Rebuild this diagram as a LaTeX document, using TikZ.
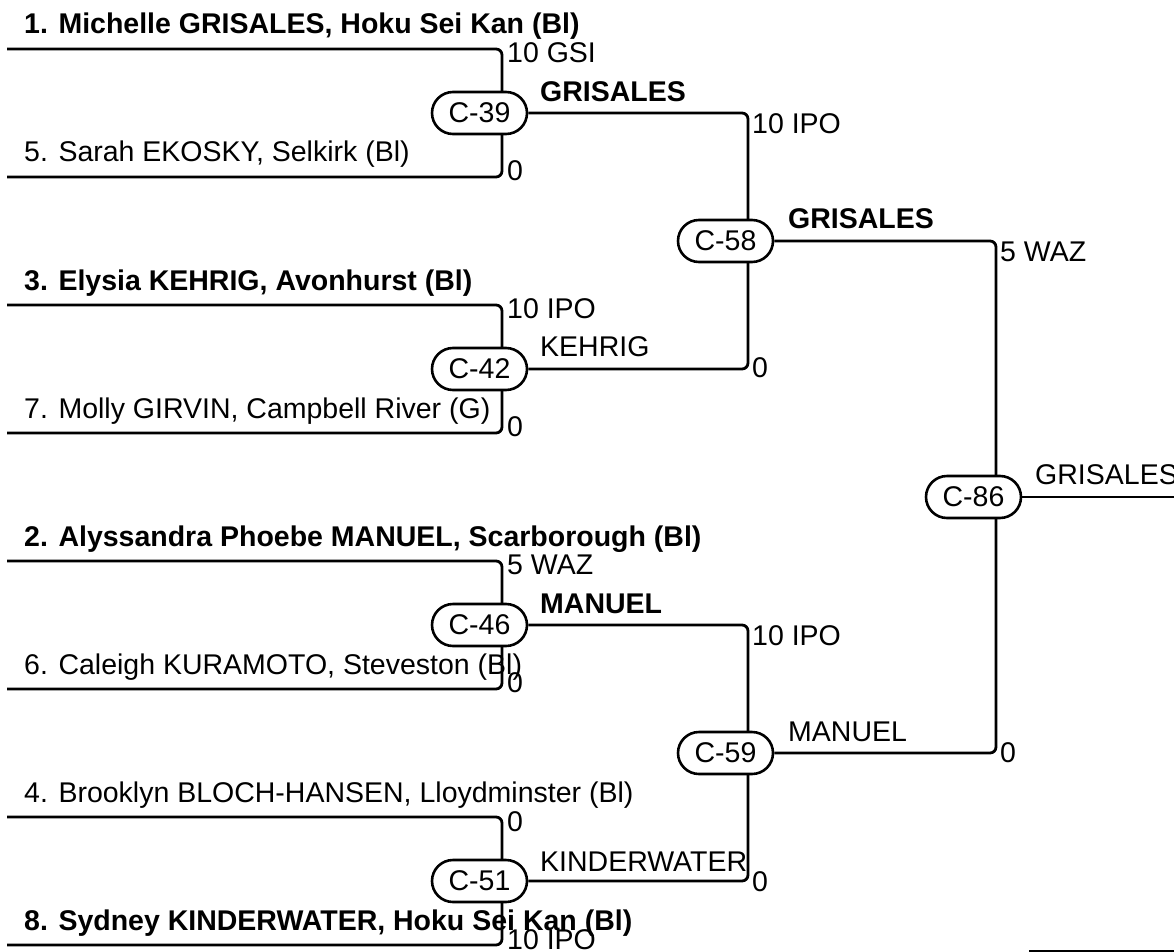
\documentclass[tikz,border=0pt]{standalone}
\usepackage{fontspec}
\setmainfont{Liberation Sans}
\pgfdeclarelayer{bg}
\pgfsetlayers{bg,main}
\newcommand\fsz{\fontsize{28.5}{30}\selectfont}
\tikzset{
  br/.style={line width=2.8pt, rounded corners=6pt},
  matchbox/.style={draw, line width=2.6pt, fill=white, rounded corners=21pt,
    minimum width=95pt, minimum height=42pt, inner sep=0pt, font=\fsz},
  entrant/.style={anchor=base west, inner sep=0pt, font=\fsz},
  scorelbl/.style={anchor=west, inner sep=0pt, font=\fsz},
  winlbl/.style={anchor=west, inner sep=0pt, font=\fsz},
}
\begin{document}
\begin{tikzpicture}[x=1pt,y=-1pt]
\useasboundingbox (0,0) rectangle (1174,952);
% entrant names
\node[entrant, font=\fsz\bfseries] (n1) at (24,34) {1. Michelle GRISALES, Hoku Sei Kan (Bl)};
\node[entrant] (n5) at (24,162) {5. Sarah EKOSKY, Selkirk (Bl)};
\node[entrant, font=\fsz\bfseries] (n3) at (24,290) {3. Elysia KEHRIG, Avonhurst (Bl)};
\node[entrant] (n7) at (24,418) {7. Molly GIRVIN, Campbell River (G)};
\node[entrant, font=\fsz\bfseries] (n2) at (24,546) {2. Alyssandra Phoebe MANUEL, Scarborough (Bl)};
\node[entrant] (n6) at (24,674) {6. Caleigh KURAMOTO, Steveston (Bl)};
\node[entrant] (n4) at (24,802) {4. Brooklyn BLOCH-HANSEN, Lloydminster (Bl)};
\node[entrant, font=\fsz\bfseries] (n8) at (24,930) {8. Sydney KINDERWATER, Hoku Sei Kan (Bl)};
% line starts
\coordinate (s1) at (7,49);
\coordinate (s5) at (7,177);
\coordinate (s3) at (7,305);
\coordinate (s7) at (7,433);
\coordinate (s2) at (7,561);
\coordinate (s6) at (7,689);
\coordinate (s4) at (7,817);
\coordinate (s8) at (7,945);
\coordinate (fin) at (1174,497);
\coordinate (xa) at (1029,951);
\coordinate (xb) at (1174,951);
% match nodes
\node[matchbox] (c39) at (479.5,113) {C-39};
\node[matchbox] (c42) at (479.5,369) {C-42};
\node[matchbox] (c46) at (479.5,625) {C-46};
\node[matchbox] (c51) at (479.5,881) {C-51};
\node[matchbox] (c58) at (725.5,241) {C-58};
\node[matchbox] (c59) at (725.5,753) {C-59};
\node[matchbox] (c86) at (973.5,497) {C-86};
% brackets
\begin{pgfonlayer}{bg}
\draw[br] (s1) -- (502,49) -- (502,177) -- (s5);
\draw[br] (s3) -- (502,305) -- (502,433) -- (s7);
\draw[br] (s2) -- (502,561) -- (502,689) -- (s6);
\draw[br] (s4) -- (502,817) -- (502,945) -- (s8);
\draw[br] (c39.east) -- (748,113) -- (748,369) -- (c42.east);
\draw[br] (c46.east) -- (748,625) -- (748,881) -- (c51.east);
\draw[br] (c58.east) -- (996,241) -- (996,753) -- (c59.east);
\draw[br] (c86.east) -- (fin);
\draw[line width=2.4pt] (xa) -- (xb);
\end{pgfonlayer}
% scores
\node[scorelbl] (sc1) at (507,53) {10 GSI};
\node[scorelbl] (sc5) at (507,171) {0};
\node[scorelbl] (sc3) at (507,309) {10 IPO};
\node[scorelbl] (sc7) at (507,427) {0};
\node[scorelbl] (sc2) at (507,565) {5 WAZ};
\node[scorelbl] (sc6) at (507,683) {0};
\node[scorelbl] (sc4) at (507,822) {0};
\node[scorelbl] (sc8) at (507,940) {10 IPO};
\node[scorelbl] (sc39) at (752,124) {10 IPO};
\node[scorelbl] (sc42) at (752,368) {0};
\node[scorelbl] (sc46) at (752,636) {10 IPO};
\node[scorelbl] (sc51) at (752,882) {0};
\node[scorelbl] (sc58) at (1000,252) {5 WAZ};
\node[scorelbl] (sc59) at (1000,753) {0};
% winners
\node[winlbl, font=\fsz\bfseries] (w39) at (540,92) {GRISALES};
\node[winlbl] (w42) at (540,347) {KEHRIG};
\node[winlbl, font=\fsz\bfseries] (w46) at (540,604) {MANUEL};
\node[winlbl] (w51) at (540,862) {KINDERWATER};
\node[winlbl, font=\fsz\bfseries] (w58) at (788,219) {GRISALES};
\node[winlbl] (w59) at (788,732) {MANUEL};
\node[winlbl] (w86) at (1035,475) {GRISALES};
\end{tikzpicture}
\end{document}
